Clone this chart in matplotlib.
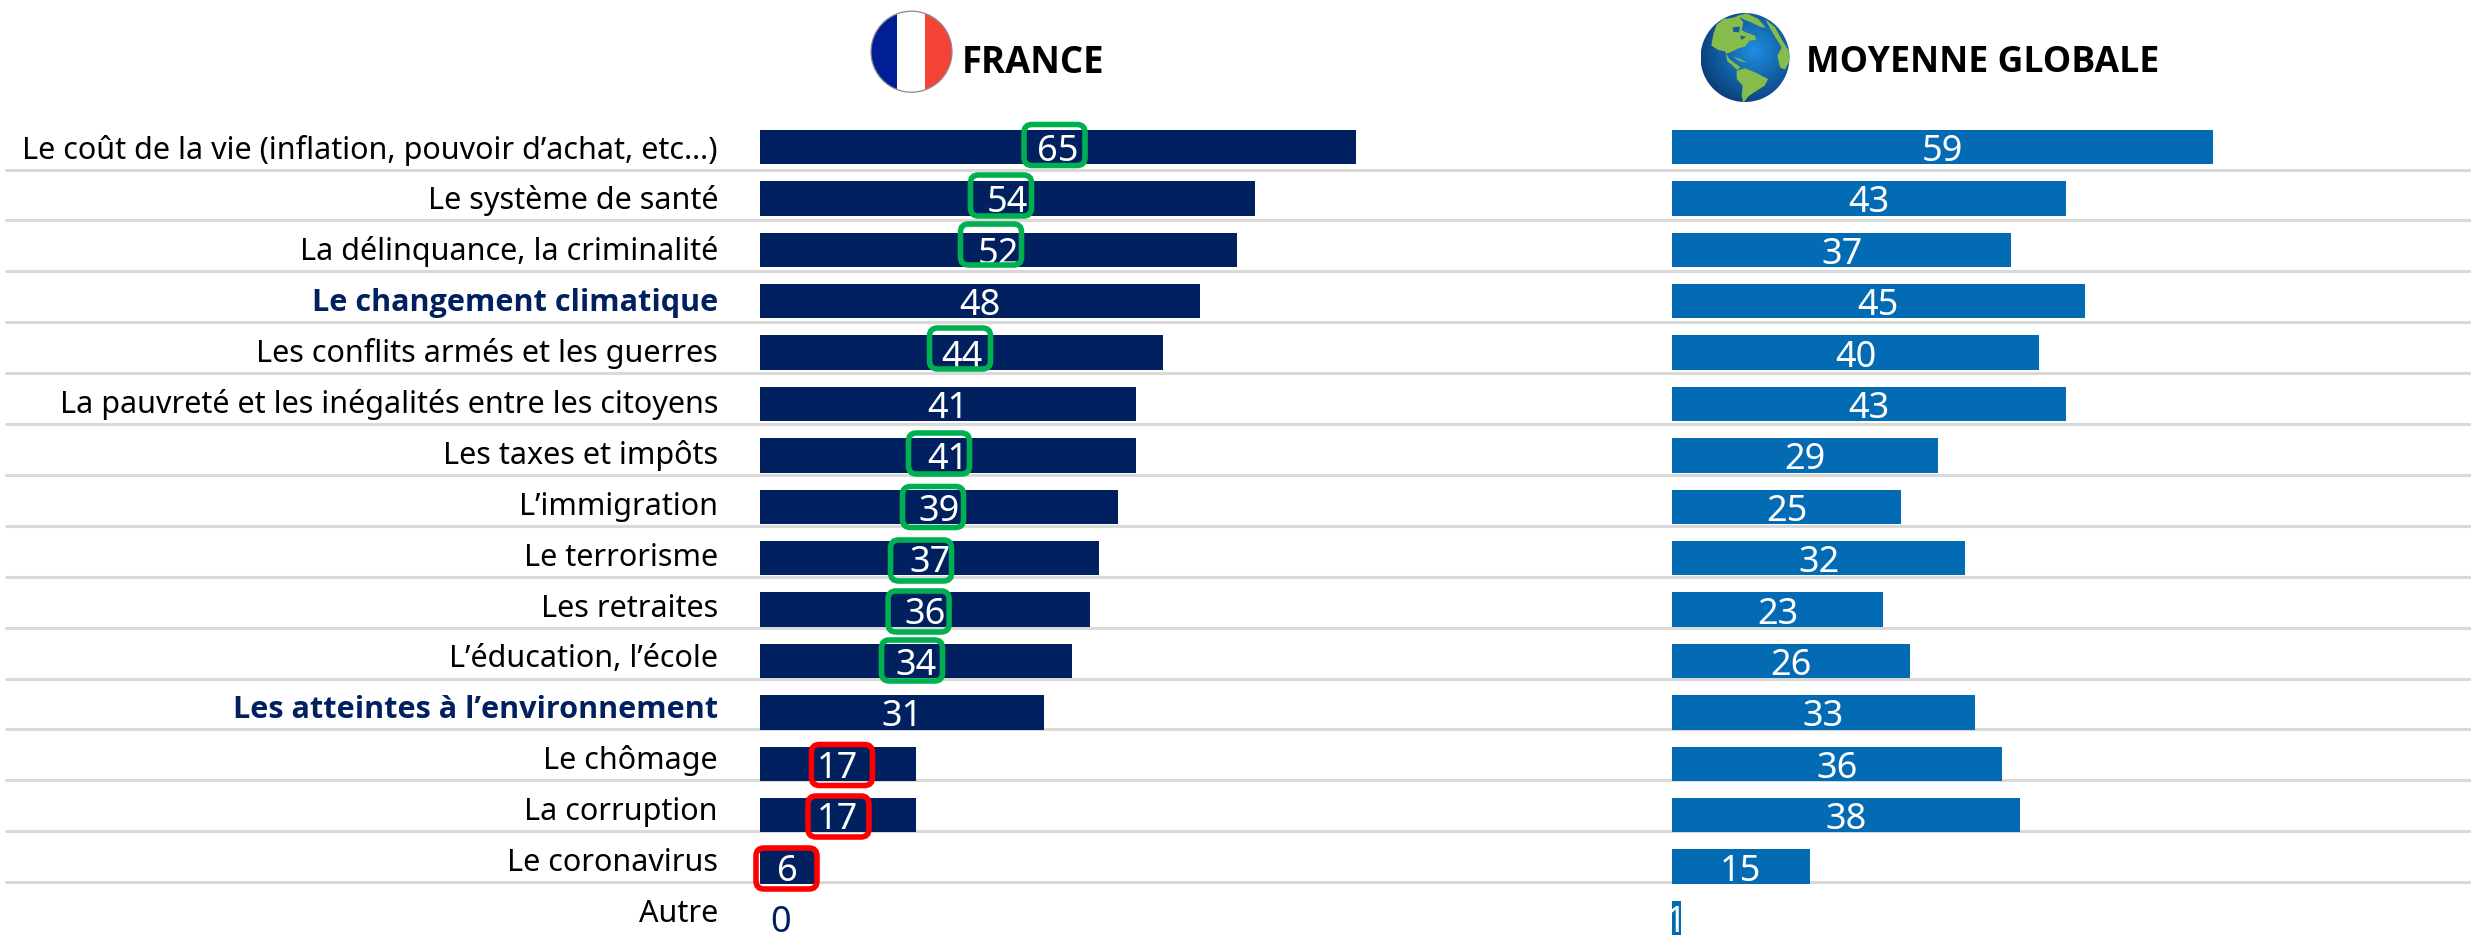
import numpy as np
import matplotlib
matplotlib.use("Agg")
import matplotlib.pyplot as plt
from matplotlib import font_manager as fm
from matplotlib.patches import Circle, FancyBboxPatch, Polygon, Rectangle

categories = ["Le coût de la vie (inflation, pouvoir d’achat, etc…)", "Le système de santé",
              "La délinquance, la criminalité", "Le changement climatique",
              "Les conflits armés et les guerres", "La pauvreté et les inégalités entre les citoyens",
              "Les taxes et impôts", "L’immigration", "Le terrorisme", "Les retraites",
              "L’éducation, l’école", "Les atteintes à l’environnement", "Le chômage",
              "La corruption", "Le coronavirus", "Autre"]
france = [65, 54, 52, 48, 44, 41, 41, 39, 37, 36, 34, 31, 17, 17, 6, 0]
globale = [59, 43, 37, 45, 40, 43, 29, 25, 32, 23, 26, 33, 36, 38, 15, 1]
highlighted = ["Le changement climatique", "Les atteintes à l’environnement"]
green_rows = [0, 1, 2, 4, 6, 7, 8, 9, 10]
red_rows = [12, 13, 14]

W, H = 2471, 937
NAVY, BLUE = "#002060", "#026BB4"
plt.rcParams["font.family"] = ["Noto Sans", "DejaVu Sans"]
bold_fp = fm.FontProperties(family="Open Sans", weight="bold")
fig = plt.figure(figsize=(W / 100, H / 100), dpi=100, facecolor="white")

def overlay(z):
    a = fig.add_axes([0, 0, 1, 1], zorder=z)
    a.set_xlim(0, W); a.set_ylim(H, 0); a.axis("off"); a.patch.set_alpha(0)
    return a

under, top = overlay(0), overlay(3)

# row pitch 51.4 px, bar centre of row 0 at y=148, 9.17 px per percentage point
PITCH, Y0, PPU = 51.4, 148.0, 9.17
def bars_axes(x0):
    x1 = min(x0 + 790, W)
    a = fig.add_axes([x0 / W, 0, (x1 - x0) / W, 1], zorder=1)
    a.set_xlim(0, (x1 - x0) / PPU)
    a.set_ylim((H - Y0) / PITCH, -Y0 / PITCH)
    a.axis("off"); a.patch.set_alpha(0)
    return a

ax_f, ax_g = bars_axes(760), bars_axes(1672)
rows = np.arange(len(categories))
for a, vals, col in ((ax_f, france, NAVY), (ax_g, globale, BLUE)):
    a.barh(rows, vals, height=0.67, color=col, edgecolor="none")
    for r, v in zip(rows, vals):
        dx = 21 if v == 0 else 0
        a.annotate(str(v), (v / 2, r), xytext=(dx * .72, -9.4), textcoords="offset points",
                   ha="center", va="baseline", fontsize=26,
                   color=NAVY if v == 0 else "white", annotation_clip=False, zorder=5)

# separators
for i in range(15):
    under.plot([5, W], [170.5 + 50.9 * i] * 2, color="#d9d9d9", lw=2.2, solid_capstyle="butt")

# category labels
for i, c in enumerate(categories):
    if c in highlighted:
        top.text(718, 158.5 + 50.9 * i, c, ha="right", va="baseline", fontproperties=bold_fp,
                 fontsize=22.1, color=NAVY)
    else:
        top.text(718, 158.5 + 50.9 * i, c, ha="right", va="baseline", fontsize=22, color="black")

# callout boxes: pixel nudges relative to each bar's centre
nudges = {0: (-3.5, -1.5), 1: (-6.6, -2.4), 2: (-7.4, -4.8), 4: (-1.7, -3.6), 6: (-9, -1.4),
          7: (-5.8, .7), 8: (-8.6, 2.8), 9: (-6.5, 2.4), 10: (-3.9, 0),
          12: (4, 1.7), 13: (.5, 1.8), 14: (-1, 2.4)}
def callout(r, col):
    cx = 760 + france[r] / 2 * PPU + nudges[r][0]
    cy = 147.5 + r * PITCH + nudges[r][1]
    w, h, rad = 61, 41, 8
    top.add_patch(FancyBboxPatch((cx - w / 2 + rad, cy - h / 2 + rad), w - 2 * rad, h - 2 * rad,
                                 boxstyle=f"round,pad={rad},rounding_size={rad}",
                                 fc="none", ec=col, lw=4.0, zorder=6))
for r in green_rows:
    callout(r, "#00B050")
for r in red_rows:
    callout(r, "#FF0000")

# headers
top.text(962, 72.7, "FRANCE", fontproperties=bold_fp, fontsize=26.3, color="black", va="baseline")
top.text(1806, 72.4, "MOYENNE GLOBALE", fontproperties=bold_fp, fontsize=25.7, color="black", va="baseline")

# French flag roundel
fc, fy, fr = 911.5, 52.7, 40.5
clip = Circle((fc, fy), fr, transform=top.transData)
for xa, xb, col in ((fc - fr, 897, "#001E96"), (897, 925, "white"), (925, fc + fr, "#F44336")):
    p = Rectangle((xa, fy - fr), xb - xa, 2 * fr, fc=col, ec="none", zorder=4)
    top.add_patch(p); p.set_clip_path(clip)
top.add_patch(Circle((fc, fy), fr, fc="none", ec="#8a8a8a", lw=0.9, zorder=5))

# globe
gx, gy, gr = 1745, 58.5, 44.5
yy, xx = np.mgrid[0:1:200j, 0:1:200j]
d = np.clip(np.hypot(xx - 0.60, yy - 0.42) / 0.72, 0, 1)[..., None]
inner, outer = np.array([0.12, 0.56, 0.88]), np.array([0.03, 0.20, 0.42])
img = inner * (1 - d) + outer * d
im = top.imshow(img, extent=(gx - gr, gx + gr, gy + gr, gy - gr), aspect="auto", zorder=4)
im.set_clip_path(Circle((gx, gy), gr, transform=top.transData))
top.set_xlim(0, W); top.set_ylim(H, 0)
def zp(pts):
    return [(1690 + x / 3, 5 + y / 3) for x, y in pts]
lands = [
    [(64, 125), (70, 90), (80, 62), (100, 45), (125, 42), (145, 36), (160, 55), (155, 78), (170, 86),
     (195, 95), (198, 108), (178, 110), (165, 128), (148, 132), (128, 142), (108, 150), (112, 172),
     (125, 182), (142, 198), (152, 190), (132, 176), (118, 165), (105, 142), (85, 138)],
    [(140, 200), (165, 193), (195, 205), (234, 225), (224, 245), (197, 262), (175, 277), (160, 297),
     (155, 275), (158, 245), (140, 225)],
    [(140, 36), (170, 28), (205, 45), (228, 72), (210, 68), (185, 56), (165, 48)],
    [(225, 45), (255, 70), (280, 115), (296, 140), (298, 172), (285, 197), (270, 190), (262, 155),
     (275, 130), (250, 90)],
    [(128, 157), (150, 165), (172, 175), (150, 172)],
]
for pts in lands:
    p = Polygon(zp(pts), fc="#86BC4C", ec="none", zorder=5)
    top.add_patch(p); p.set_clip_path(Circle((gx, gy), gr, transform=top.transData))
for pts in ([(128, 70), (150, 68), (147, 85), (130, 84)], [(150, 95), (168, 98), (155, 108)]):
    top.add_patch(Polygon(zp(pts), fc="#1A5C9E", ec="none", zorder=6))

fig.savefig("out.png", dpi=100)
